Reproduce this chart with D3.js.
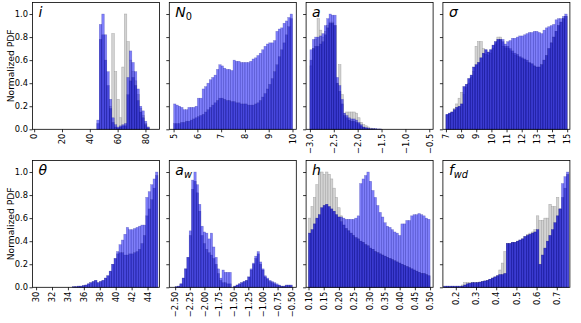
<!DOCTYPE html>
<html><head><meta charset="utf-8">
<script src="https://cdn.jsdelivr.net/npm/d3@7"></script>
<style>body{margin:0;background:#fff;overflow:hidden}svg{display:block;font-family:"DejaVu Sans",sans-serif}</style>
</head><body><script>
// ---------------- data ----------------
// panel i
const i_bins=[0,90];
const i_ticks=[0,20,40,60,80];
const i_G=[0,0,0,0,0,0,0,0,0,0, 0,0,0,0,0,0,0,0,0,0, 0,0,0,0,0,0,0,0,0,0, 0.2,0.83,0.5,0.26,0.1, 0.54,1.0,0.76,0.6,0.5, 0.42,0.3,0.18,0.12,0.05, 0.02,0,0,0,0];
const i_A=[0,0,0,0,0,0,0,0,0,0, 0,0,0,0,0,0,0,0,0,0, 0,0,0,0,0, 0.08,0.91,1.0,0.82,0.5, 0.26,0.1,0.04,0.02,0.03, 0.04,0.05,0.45,0.68,0.58, 0.5,0.35,0.2,0.16,0.07, 0.02,0,0,0,0];
const i_B=[0,0,0,0,0,0,0,0,0,0, 0,0,0,0,0,0,0,0,0,0, 0,0,0,0,0, 0.05,0.78,0.82,0.6,0.38, 0.18,0.06,0.02,0.01,0.02, 0.03,0.03,0.3,0.42,0.45, 0.38,0.25,0.15,0.1,0.04, 0.01,0,0,0,0];
// panel N0
const n0_bins=[5,10];
const n0_ticks=[5,6,7,8,9,10];
const n0_G=[0,0,0,0,0,0,0,0,0,0, 0,0,0,0,0,0,0,0,0,0, 0,0,0,0,0,0,0,0,0,0, 0,0,0,0,0,0,0,0,0,0, 0,0,0,0,0,0,0,0,0,0];
const n0_A=[0.22,0.21,0.2,0.19,0.17,0.17,0.19,0.19,0.19,0.2, 0.27,0.27,0.35,0.37,0.4,0.43,0.45,0.47,0.52,0.56, 0.55,0.53,0.52,0.52,0.51,0.6,0.59,0.59,0.58,0.58, 0.58,0.58,0.59,0.61,0.62,0.64,0.66,0.69,0.72,0.74, 0.75,0.75,0.77,0.85,0.87,0.88,0.92,0.94,0.97,1.0];
const n0_B=[0.05,0.05,0.05,0.06,0.06,0.07,0.07,0.08,0.09,0.1, 0.11,0.12,0.13,0.15,0.17,0.19,0.21,0.23,0.25,0.27, 0.27,0.26,0.25,0.25,0.24,0.24,0.23,0.23,0.22,0.22, 0.22,0.21,0.21,0.21,0.22,0.23,0.25,0.28,0.31,0.35, 0.39,0.44,0.5,0.56,0.63,0.69,0.75,0.82,0.89,0.96];
// panel a
const a_bins=[-3,-0.5];
const a_ticks=[-3.0,-2.5,-2.0,-1.5,-1.0,-0.5];
const a_G=[0.55,0.7,0.78,0.96,0.86,0.8,0.85,0.9,0.93,0.93, 0.9,0.4,0.56,0.3,0.14,0.15,0.15,0.15,0.15,0.14, 0.1,0.06,0.04,0.03,0.02,0.01,0.005,0,0,0, 0,0,0,0,0,0,0,0,0,0, 0,0,0,0,0,0,0,0,0,0];
const a_A=[0.69,0.78,0.8,0.8,0.81,0.83,0.9,0.96,1.0,0.99, 0.99,0.45,0.38,0.26,0.14,0.12,0.1,0.09,0.09,0.08, 0.06,0.04,0.02,0.015,0.01,0.005,0.005,0.005,0.003,0.003, 0,0,0,0,0,0,0,0,0,0, 0,0,0,0,0,0,0,0,0,0];
const a_B=[0.6,0.7,0.72,0.72,0.74,0.76,0.82,0.88,0.92,0.92, 0.9,0.4,0.33,0.22,0.12,0.1,0.08,0.07,0.07,0.06, 0.05,0.03,0.015,0.01,0.005,0.003,0.003,0.003,0.002,0.002, 0,0,0,0,0,0,0,0,0,0, 0,0,0,0,0,0,0,0,0,0];
// panel sigma
const s_bins=[7,15];
const s_ticks=[7,8,9,10,11,12,13,14,15];
const s_G=[0.12,0.13,0.15,0.18,0.22,0.27,0.32,0.3,0.36,0.4, 0.45,0.5,0.72,0.76,0.76,0.7,0.65,0.64,0.66,0.7, 0.74,0.8,0.8,0.72,0.7,0.7,0.68,0.66,0.64,0.63, 0.62,0.61,0.6,0.58,0.57,0.56,0.55,0.54,0.54,0.56, 0.6,0.64,0.7,0.75,0.8,0.85,0.9,0.93,0.96,0.98];
const s_A=[0.13,0.14,0.15,0.17,0.19,0.2,0.22,0.37,0.39,0.44, 0.47,0.54,0.56,0.58,0.62,0.66,0.69,0.67,0.69,0.73, 0.76,0.78,0.78,0.78,0.74,0.76,0.77,0.79,0.79,0.8, 0.81,0.81,0.82,0.83,0.84,0.84,0.85,0.85,0.84,0.83, 0.86,0.88,0.89,0.9,0.91,0.95,0.96,0.96,0.98,1.0];
const s_B=[0.13,0.14,0.15,0.17,0.19,0.2,0.22,0.37,0.39,0.44, 0.47,0.54,0.56,0.58,0.62,0.66,0.69,0.67,0.69,0.73, 0.76,0.78,0.78,0.76,0.72,0.72,0.7,0.68,0.66,0.65, 0.63,0.62,0.61,0.6,0.58,0.57,0.55,0.54,0.54,0.56, 0.6,0.64,0.7,0.75,0.8,0.85,0.9,0.93,0.96,0.98];
// panel theta
const t_bins=[30,45.3];
const t_ticks=[30,32,34,36,38,40,42,44];
const t_G=[0,0,0,0,0,0,0,0,0,0, 0,0,0,0,0,0,0,0,0,0, 0,0,0,0,0,0,0,0,0,0, 0,0,0,0,0,0,0,0,0,0, 0,0,0,0,0,0,0,0,0,0];
const t_A=[0,0,0,0,0,0,0,0,0,0, 0,0,0,0,0, 0.005,0.005,0.01,0.01,0.015, 0.02,0.03,0.04,0.05,0.06, 0.04,0.05,0.06,0.08,0.1, 0.14,0.2,0.25,0.31,0.37, 0.41,0.46,0.52,0.5,0.5, 0.51,0.52,0.53,0.54,0.54, 0.78,0.83,0.89,0.94,1.0];
const t_B=[0,0,0,0,0,0,0,0,0,0, 0,0,0,0,0, 0.005,0.005,0.01,0.01,0.015, 0.02,0.03,0.04,0.05,0.06, 0.04,0.05,0.06,0.08,0.1, 0.14,0.2,0.25,0.29,0.3, 0.3,0.28,0.28,0.29,0.29, 0.3,0.31,0.33,0.38,0.45, 0.62,0.68,0.76,0.86,0.97];
// panel a_w
const w_bins=[-2.5,-0.5];
const w_ticks=[-2.5,-2.25,-2.0,-1.75,-1.5,-1.25,-1.0,-0.75,-0.5];
const w_G=[0,0,0,0,0,0,0,0,0,0, 0,0,0,0,0,0,0,0,0,0, 0,0,0,0,0,0,0,0,0,0, 0,0,0,0,0,0,0,0,0,0, 0,0,0,0,0,0,0,0,0,0];
const w_A=[0.005,0.01,0.03,0.08,0.16, 0.26,0.49,0.93,1.0,0.89, 0.72,0.53,0.48,0.47,0.42, 0.47,0.35,0.26,0.16,0.08, 0.15,0.13,0.13,0.13,0, 0.01,0.02,0.03,0.04,0.05, 0.06,0.09,0.16,0.21,0.27, 0.31,0.22,0.16,0.1,0.08, 0.06,0.05,0.04,0.03,0.02, 0.01,0.01,0.02,0.02,0.02];
const w_B=[0.005,0.01,0.03,0.08,0.16, 0.26,0.45,0.85,0.92,0.82, 0.66,0.45,0.38,0.33,0.3, 0.28,0.25,0.2,0.12,0.06, 0.04,0.04,0.03,0.03,0, 0.01,0.02,0.03,0.04,0.05, 0.06,0.09,0.15,0.2,0.25, 0.29,0.2,0.15,0.09,0.07, 0.05,0.04,0.03,0.02,0.015, 0.01,0.01,0.015,0.015,0.015];
// panel h
const h_bins=[0.1,0.5];
const h_ticks=[0.10,0.15,0.20,0.25,0.30,0.35,0.40,0.45,0.50];
const h_G=[0.6,0.7,0.78,0.89,1.0, 1.0,0.98,1.0,0.98,0.94, 0.86,0.78,0.69,0.62,0.54, 0.51,0.49,0.47,0.45,0.43, 0.42,0.4,0.39,0.37,0.36, 0.34,0.33,0.31,0.3,0.29, 0.28,0.27,0.26,0.25,0.24, 0.23,0.22,0.21,0.2,0.19, 0.18,0.17,0.16,0.15,0.14, 0.13,0.12,0.12,0.11,0.1];
const h_A=[0.47,0.5,0.55,0.6,0.63, 0.69,0.71,0.72,0.7,0.68, 0.66,0.63,0.61,0.61,0.6, 0.59,0.59,0.59,0.59,0.6, 0.62,0.9,0.94,0.97,1.0, 0.92,0.84,0.78,0.71,0.65, 0.61,0.56,0.53,0.52,0.5, 0.48,0.47,0.45,0.55,0.55, 0.58,0.58,0.62,0.63,0.63, 0.64,0.63,0.62,0.6,0.59];
const h_B=[0.47,0.5,0.55,0.6,0.63, 0.69,0.71,0.72,0.7,0.68, 0.66,0.63,0.61,0.57,0.54, 0.51,0.49,0.47,0.45,0.43, 0.42,0.4,0.39,0.37,0.36, 0.34,0.33,0.31,0.3,0.29, 0.28,0.27,0.26,0.25,0.24, 0.23,0.22,0.21,0.2,0.19, 0.18,0.17,0.16,0.15,0.14, 0.13,0.12,0.12,0.11,0.1];
// panel f_wd
const f_bins=[0.14,0.76];
const f_ticks=[0.2,0.3,0.4,0.5,0.6,0.7];
const f_G=[0,0,0,0,0, 0,0,0.02,0.04,0.04, 0.04,0.04,0.04,0.04,0.045, 0.05,0.055,0.06,0.07,0.08, 0.09,0.1,0.15,0.21,0.31, 0.38,0.38,0.39,0.39,0.4, 0.41,0.42,0.44,0.46,0.47, 0.48,0.5,0.62,0.58,0.58, 0.6,0.6,0.72,0.7,0.7, 0.78,0.68,0,0,0];
const f_A=[0.01,0.01,0.01,0.01,0.01, 0.01,0.01,0.01,0.02,0.03, 0.035,0.04,0.04,0.04,0.045, 0.05,0.055,0.06,0.07,0.08, 0.09,0.1,0.11,0.11,0.12, 0.38,0.38,0.39,0.39,0.4, 0.41,0.42,0.44,0.45,0.46, 0.47,0.48,0.5,0.2,0.28, 0.34,0.4,0.45,0.5,0.56, 0.62,0.68,0.9,0.96,1.0];
const f_B=[0.01,0.01,0.01,0.01,0.01, 0.01,0.01,0.01,0.02,0.03, 0.035,0.04,0.04,0.04,0.045, 0.05,0.055,0.06,0.07,0.08, 0.09,0.1,0.11,0.11,0.12, 0.38,0.38,0.39,0.39,0.4, 0.41,0.42,0.44,0.45,0.46, 0.47,0.48,0.5,0.2,0.28, 0.34,0.4,0.45,0.5,0.56, 0.62,0.68,0.78,0.86,0.98];

const labels=["i","N","a","σ","θ","a","h","f"];
const subs=["","0","","","","w","","wd"];
const yTickVals=[0,0.2,0.4,0.6,0.8,1.0];

// ---------------- chart ----------------
const panels=[
 {bins:i_bins,ticks:i_ticks,G:i_G,A:i_A,B:i_B,fmt:"d",xdom:[-1.2,90.1]},
 {bins:n0_bins,ticks:n0_ticks,G:n0_G,A:n0_A,B:n0_B,fmt:"d",xdom:[4.82,10.16]},
 {bins:a_bins,ticks:a_ticks,G:a_G,A:a_A,B:a_B,fmt:".1f",xdom:[-3.08,-0.42]},
 {bins:s_bins,ticks:s_ticks,G:s_G,A:s_A,B:s_B,fmt:"d",xdom:[6.8,15.18]},
 {bins:t_bins,ticks:t_ticks,G:t_G,A:t_A,B:t_B,fmt:"d",xdom:[29.55,45.5]},
 {bins:w_bins,ticks:w_ticks,G:w_G,A:w_A,B:w_B,fmt:".2f",xdom:[-2.6,-0.43]},
 {bins:h_bins,ticks:h_ticks,G:h_G,A:h_A,B:h_B,fmt:".2f",xdom:[0.092,0.51]},
 {bins:f_bins,ticks:f_ticks,G:f_G,A:f_A,B:f_B,fmt:".1f",xdom:[0.136,0.765]}
];

const W=581,H=323;
const svg=d3.select("body").append("svg").attr("width",W).attr("height",H);
svg.append("rect").attr("width",W).attr("height",H).attr("fill","#fff");
const colLeft=[32.5,169.3,306.1,442.9], rowTop=[2.5,160.5], pw=127, ph=126.8;
const FONT="DejaVu Sans";

panels.forEach((p,idx)=>{
  const r=Math.floor(idx/4), c=idx%4;
  const g=svg.append("g").attr("transform",`translate(${colLeft[c]},${rowTop[r]})`);
  const x=d3.scaleLinear().domain(p.xdom).range([0,pw]);
  const y=d3.scaleLinear().domain([0,1.1]).range([ph,0]);
  const n=p.A.length, bw=(p.bins[1]-p.bins[0])/n;
  const layer=(vals,fill,stroke,fo,so)=>{
    g.append("g").selectAll("rect")
      .data(vals.map((v,k)=>({v,k})).filter(d=>d.v>0)).join("rect")
      .attr("x",d=>x(p.bins[0]+d.k*bw))
      .attr("width",d=>x(p.bins[0]+(d.k+1)*bw)-x(p.bins[0]+d.k*bw))
      .attr("y",d=>y(d.v)).attr("height",d=>y(0)-y(d.v))
      .attr("fill",fill).attr("fill-opacity",fo)
      .attr("stroke",stroke).attr("stroke-opacity",so).attr("stroke-width",0.5);
  };
  layer(p.G,"#d3d3d3","#a0a0a0",1,0.9);
  layer(p.A,"#0000f5","#1a1a90",0.5,0.4);
  layer(p.B,"#0000b4","#1a1a80",0.43,0.35);

  const ya=g.append("g").call(d3.axisLeft(y).tickValues(yTickVals).tickSize(3).tickPadding(1.5)
      .tickFormat(c===0?d3.format(".1f"):()=>""));
  ya.select(".domain").remove();
  ya.selectAll("line").attr("stroke","#000").attr("stroke-width",0.8);
  ya.selectAll("text").attr("font-size","8.3px").attr("font-family",FONT).attr("fill","#000");

  const f=d3.format(p.fmt);
  const xa=g.append("g").attr("transform",`translate(0,${ph})`)
     .call(d3.axisBottom(x).tickValues(p.ticks).tickSize(3).tickFormat(d=>f(d)));
  xa.select(".domain").remove();
  xa.selectAll("line").attr("stroke","#000").attr("stroke-width",0.8);
  xa.selectAll("text").attr("font-size","8.3px").attr("font-family",FONT).attr("fill","#000")
     .attr("transform","rotate(-90)").attr("text-anchor","end")
     .attr("x",-4.5).attr("y",0).attr("dy","0.33em");

  g.append("rect").attr("width",pw).attr("height",ph).attr("fill","none")
    .attr("stroke","#000").attr("stroke-width",0.8);

  const t=g.append("text").attr("x",6).attr("y",14.8).attr("font-size","14px")
    .attr("font-family",FONT).attr("font-style","italic").attr("fill","#000");
  t.append("tspan").text(labels[idx]);
  if(subs[idx]) t.append("tspan").attr("dy",3).attr("font-size","9.8px")
      .attr("font-style",/^\d+$/.test(subs[idx])?"normal":"italic").text(subs[idx]);
});

rowTop.forEach(rt=>{
  svg.append("text").attr("transform",`translate(14,${rt+ph/2}) rotate(-90)`)
    .attr("text-anchor","middle").attr("font-size","9.2px").attr("font-family",FONT)
    .attr("fill","#000").text("Normalized PDF");
});
</script></body></html>
